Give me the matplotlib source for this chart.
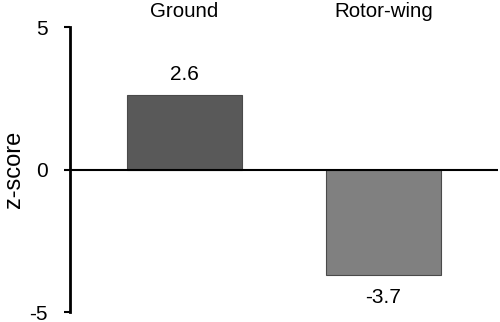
import matplotlib
matplotlib.use("Agg")
import matplotlib.pyplot as plt

plt.rcParams["font.family"] = ["Liberation Sans", "DejaVu Sans"]

categories = ["Ground", "Rotor-wing"]
values = [2.6, -3.7]
bar_colors = ["#595959", "#808080"]

fig = plt.figure(figsize=(5.0, 3.22), dpi=100)
ax = fig.add_axes([0.14, 0.031, 0.856, 0.885])

x = list(range(len(categories)))
ax.bar(x, values, width=0.578, color=bar_colors, edgecolor="#4a4a4a", linewidth=0.8, zorder=2)
ax.axhline(0, color="black", linewidth=1.5, zorder=3)

for xi, v in zip(x, values):
    if v >= 0:
        ax.text(xi, v + 0.75, f"{v:.1f}", ha="center", va="center", fontsize=15)
    else:
        ax.text(xi, v - 0.8, f"{v:.1f}", ha="center", va="center", fontsize=15)

ax.set_xlim(-0.575, 1.575)
ax.set_ylim(-5, 5)
ax.set_yticks([-5, 0, 5])
ax.set_yticklabels(["-5", "0", "5"])
ax.tick_params(axis="y", direction="out", length=4, width=1.5, pad=12, labelsize=15)

# category names along the top
ax.xaxis.tick_top()
ax.set_xticks(x)
ax.set_xticklabels(categories)
ax.tick_params(axis="x", length=0, pad=4, labelsize=14.8)

ax.set_ylabel("z-score", fontsize=17, labelpad=3)
ax.spines[["top", "right", "bottom"]].set_visible(False)
ax.spines["left"].set_linewidth(2)

fig.savefig("out.png", dpi=100)
